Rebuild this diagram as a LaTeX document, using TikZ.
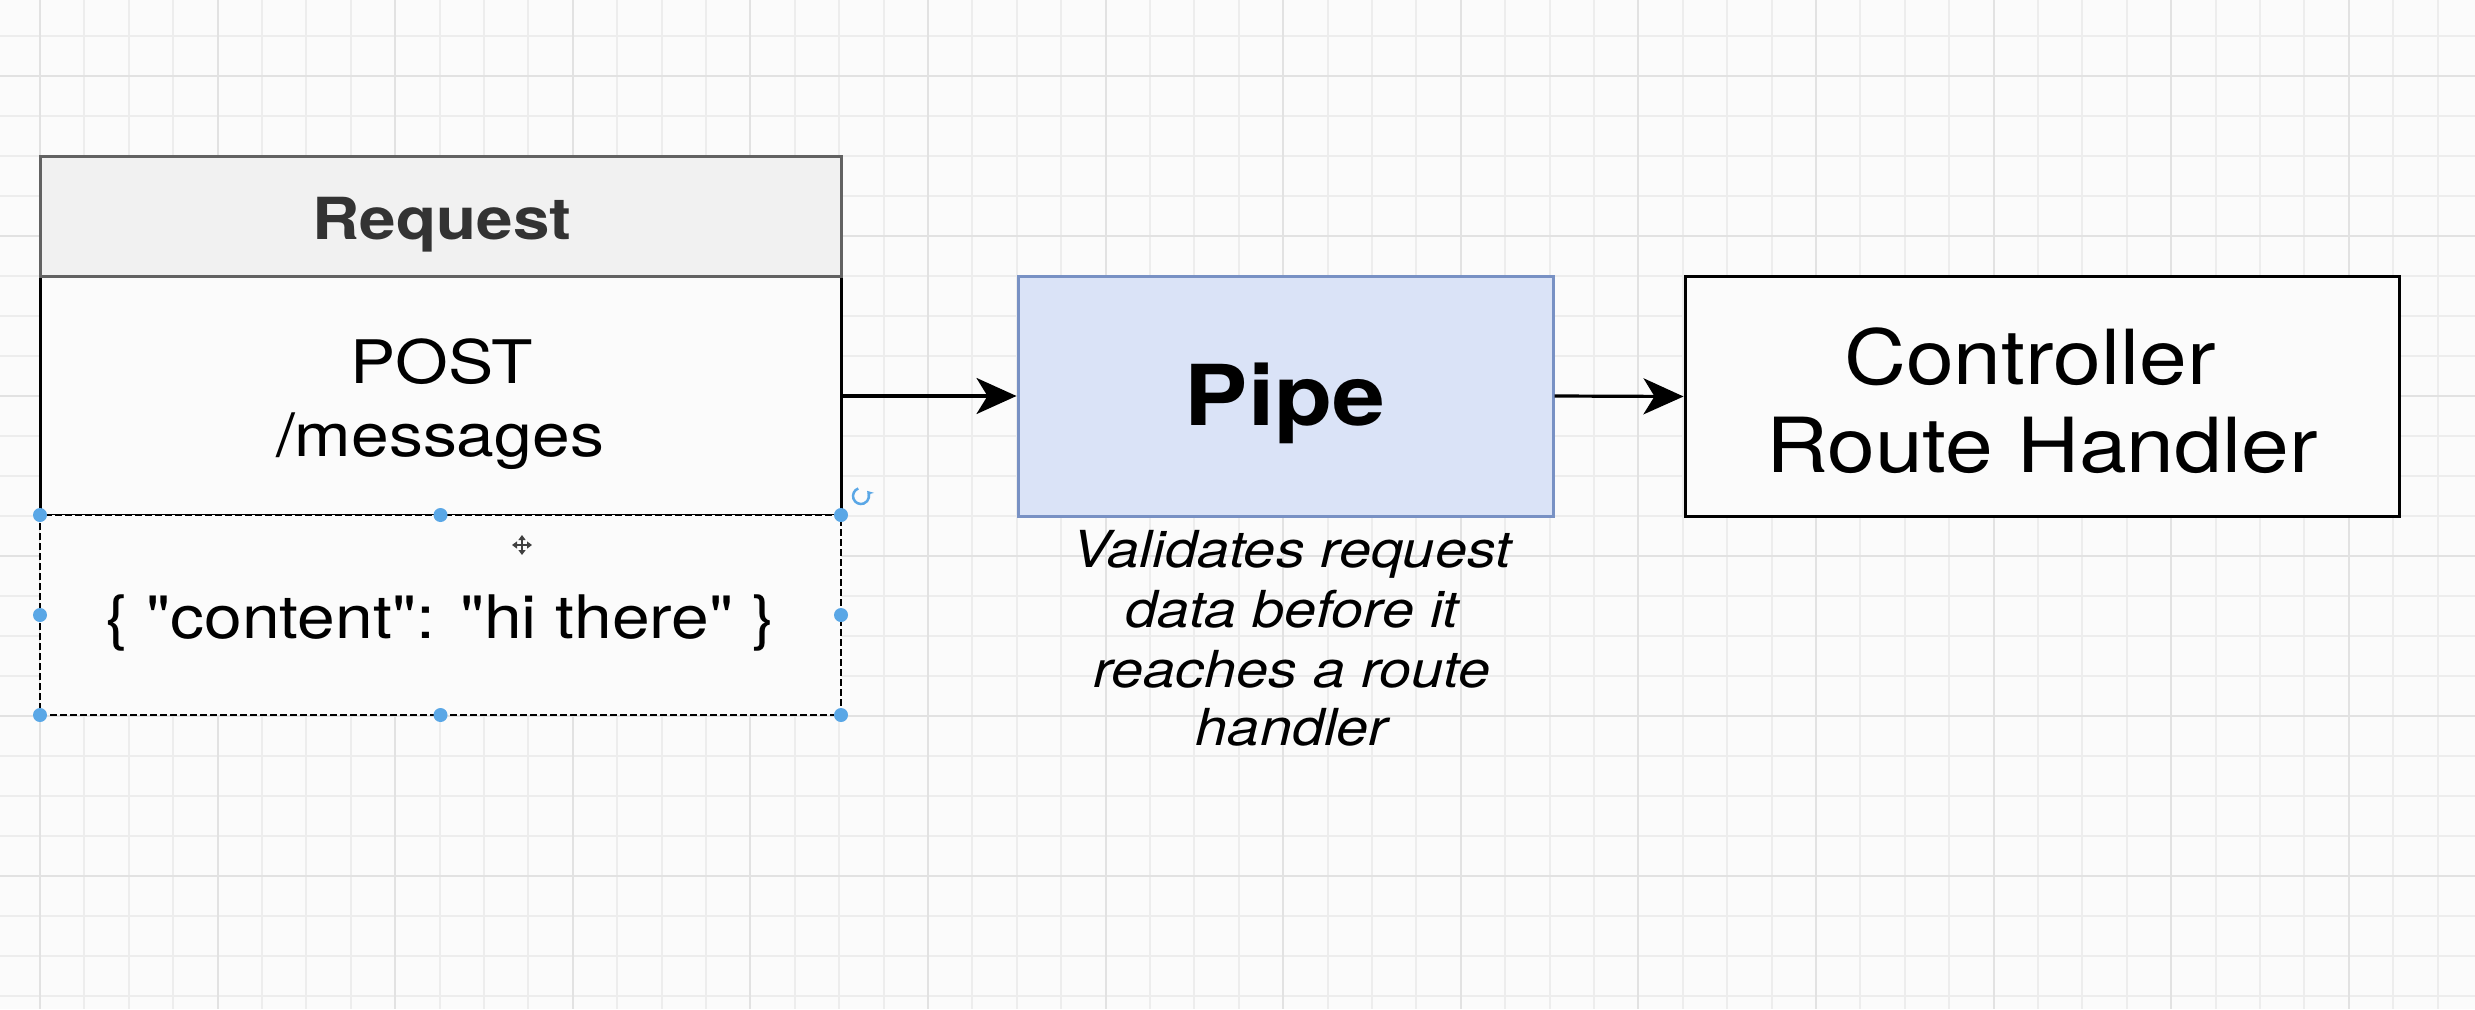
\documentclass[tikz,border=0pt]{standalone}
\usepackage{fontspec}
\setmainfont{TeX Gyre Heros}[FakeStretch=1.13]
\usetikzlibrary{arrows.meta}
\definecolor{bg}{HTML}{FBFBFB}
\definecolor{gridminor}{HTML}{EDEDED}
\definecolor{gridmajor}{HTML}{E2E2E2}
\definecolor{headfill}{HTML}{F1F1F1}
\definecolor{headline}{HTML}{626262}
\definecolor{pipefill}{HTML}{DAE3F7}
\definecolor{pipeline}{HTML}{7891C4}
\definecolor{selblue}{HTML}{5AA7E6}
\definecolor{darktext}{HTML}{333333}
\tikzset{
  gminor/.style={draw=gridminor, line width=2pt},
  gmajor/.style={draw=gridmajor, line width=2pt},
  boxnode/.style={rectangle, inner sep=0pt, line width=3pt},
  txt/.style={inner sep=0pt, anchor=base, text=black},
  arr/.style={line width=3.2pt, draw=black, -{Stealth[length=40pt, width=36pt, inset=11pt]}},
  handle/.style={circle, fill=selblue, inner sep=0pt, minimum size=14pt},
}
\begin{document}
\begin{tikzpicture}[x=1pt, y=-1pt]
\fill[bg] (0,0) rectangle (2475,1009);
\useasboundingbox (0,0) rectangle (2475,1009);
% grid
\foreach \i in {0,...,54} \draw[gminor] ({40+44.4*\i},0) -- ({40+44.4*\i},1009);
\foreach \j in {0,...,24} \draw[gminor] (0,{36+40*\j}) -- (2475,{36+40*\j});
\foreach \i in {0,...,13} \draw[gmajor] ({40+177.6*\i},0) -- ({40+177.6*\i},1009);
\foreach \j in {0,...,5} \draw[gmajor] (0,{76+160*\j}) -- (2475,{76+160*\j});

% Request swimlane
\node[boxnode, draw=black, fill=bg, minimum width=801pt, minimum height=239pt] (body) at (440.5,395.5) {};
\node[boxnode, draw=headline, fill=headfill, minimum width=801pt, minimum height=120pt] (head) at (440.5,216) {};
\node[boxnode, fill=bg, draw=black, line width=2.5pt, dash pattern=on 7pt off 3pt, minimum width=801pt, minimum height=200pt] (content) at (440.5,615) {};

\node[txt, text=darktext, font=\fontsize{58}{70}\selectfont\bfseries] (reqlabel) at (442,239) {Request};
\node[txt, font=\fontsize{60}{72}\selectfont] (post) at (442,383) {POST};
\node[txt, font=\fontsize{60}{72}\selectfont] (msgs) at (440,456) {/messages};
\node[txt, font=\fontsize{60}{72}\selectfont\addfontfeatures{Ligatures=TeXOff}] (json) at (440,638) {\{ "content": "hi there" \}};

% selection handles
\foreach \p/\n in {{40,515}/a,{440.5,515}/b,{841,515}/c,{40,615}/d,{841,615}/e,{40,715}/f,{440.5,715}/g,{841,715}/h}
  \node[handle] (h\n) at (\p) {};
\coordinate (rot) at (861,496);
\draw[selblue, line width=2.5pt, -{Stealth[length=6pt,width=8pt]}] ([shift={(110:8pt)}]rot) arc[start angle=110, end angle=400, radius=8pt];
\coordinate (mv) at (522,545);
\draw[darkgray, line width=2.5pt, {Triangle[length=5pt,width=7pt]}-{Triangle[length=5pt,width=7pt]}] ([xshift=-10pt]mv) -- ([xshift=10pt]mv);
\draw[darkgray, line width=2.5pt, {Triangle[length=5pt,width=7pt]}-{Triangle[length=5pt,width=7pt]}] ([yshift=-10pt]mv) -- ([yshift=10pt]mv);

% Pipe
\node[boxnode, draw=pipeline, fill=pipefill, minimum width=535pt, minimum height=240pt] (pipe) at (1285.5,396) {};
\node[txt, font=\fontsize{84}{100}\selectfont\bfseries] (pipelabel) at (1285,425) {Pipe};
\node[txt, font=\fontsize{51}{60}\selectfont\itshape] (d1) at (1292,567) {Validates request};
\node[txt, font=\fontsize{51}{60}\selectfont\itshape] (d2) at (1292,627) {data before it};
\node[txt, font=\fontsize{51}{60}\selectfont\itshape] (d3) at (1292,687) {reaches a route};
\node[txt, font=\fontsize{51}{60}\selectfont\itshape] (d4) at (1292,745) {handler};

% Controller
\node[boxnode, draw=black, fill=bg, minimum width=714pt, minimum height=240pt] (ctrl) at (2042,396.5) {};
\node[txt, font=\fontsize{76}{90}\selectfont] (c1) at (2030,384) {Controller};
\node[txt, font=\fontsize{76}{90}\selectfont] (c2) at (2042,472) {Route Handler};

% connectors
\draw[arr] (body.east |- pipe.west) -- (pipe.west);
\draw[arr] (pipe.east) -- (ctrl.west);
\end{tikzpicture}
\end{document}
